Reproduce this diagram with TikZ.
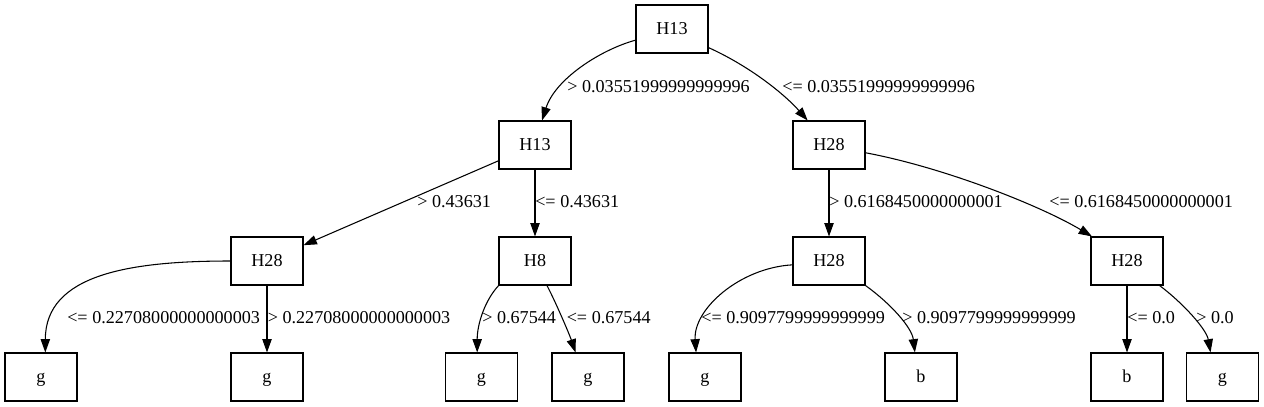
\documentclass[tikz,border=0pt]{standalone}
\usepackage{fontspec}
\setmainfont{Liberation Serif}
\usetikzlibrary{arrows.meta}
\begin{document}
\begin{tikzpicture}[x=0.75pt,y=-0.75pt,
  box/.style={draw, line width=0.8pt, minimum width=54pt, minimum height=36pt, inner sep=0pt,
    text height=8.4pt, text depth=0pt, font=\fontsize{13.6pt}{16pt}\selectfont},
  lbl/.style={anchor=west, inner sep=0pt, text height=8.4pt, text depth=0pt,
    font=\fontsize{13.6pt}{16pt}\selectfont},
  edge/.style={draw, line width=0.8pt, -{Triangle[length=10pt,width=7pt]}}]
\useasboundingbox (0,0) rectangle (1264,407);
% nodes
\node[box] (r) at (672,29) {H13};
\node[box] (a) at (535,145) {H13};
\node[box] (b) at (829,145) {H28};
\node[box] (aa) at (267,261) {H28};
\node[box] (ab) at (535,261) {H8};
\node[box] (ba) at (829,261) {H28};
\node[box] (bb) at (1127,261) {H28};
\node[box] (l1) at (41,377) {g};
\node[box] (l2) at (267,377) {g};
\node[box] (l3) at (481.5,377) {g};
\node[box] (l4) at (588,377) {g};
\node[box] (l5) at (705,377) {g};
\node[box] (l6) at (921,377) {b};
\node[box] (l7) at (1127,377) {b};
\node[box] (l8) at (1222.5,377) {g};
% edges
\draw[edge] (r.197) .. controls +(-36,10) and +(13,-41) .. (a.74);
\draw[edge] (r.-27) .. controls +(42,19) and +(-23,-26) .. (b.131);
\draw[edge] (a) -- (aa);
\draw[edge] (a) -- (ab);
\draw[edge] (b) -- (ba);
\draw[edge] (b.-12.5) .. controls +(80,15) and +(-50,-30) .. (bb.145);
\draw[edge] (aa.west) .. controls +(-101,0) and +(0,-78) .. (l1.80);
\draw[edge] (aa) -- (l2);
\draw[edge] (ab.214) .. controls +(-14,15) and +(0,-28) .. (l3.100);
\draw[edge] (ab.-64) .. controls +(8,15) and +(-6,-18) .. (l4.117);
\draw[edge] (ba.186) .. controls +(-53,3) and +(-3,-43) .. (l5.110);
\draw[edge] (ba.south east) .. controls +(25,18) and +(-3,-25) .. (l6.104);
\draw[edge] (bb) -- (l7);
\draw[edge] (bb.-37.5) .. controls +(24,18) and +(-4,-23) .. (l8.116);
% labels
\node[lbl] (t1) at (567,87) {> 0.03551999999999996};
\node[lbl] (t2) at (782,87) {<= 0.03551999999999996};
\node[lbl] (t3) at (417,202) {> 0.43631};
\node[lbl] (t4) at (535,202) {<= 0.43631};
\node[lbl] (t5) at (829,202) {> 0.6168450000000001};
\node[lbl] (t6) at (1049,202) {<= 0.6168450000000001};
\node[lbl] (t7) at (67,318) {<= 0.22708000000000003};
\node[lbl] (t8) at (267.5,318) {> 0.22708000000000003};
\node[lbl] (t9) at (482,318) {> 0.67544};
\node[lbl] (t10) at (566.5,318) {<= 0.67544};
\node[lbl] (t11) at (701,318) {<= 0.9097799999999999};
\node[lbl] (t12) at (902,318) {> 0.9097799999999999};
\node[lbl] (t13) at (1127,318) {<= 0.0};
\node[lbl] (t14) at (1196,318) {> 0.0};
\end{tikzpicture}
\end{document}
